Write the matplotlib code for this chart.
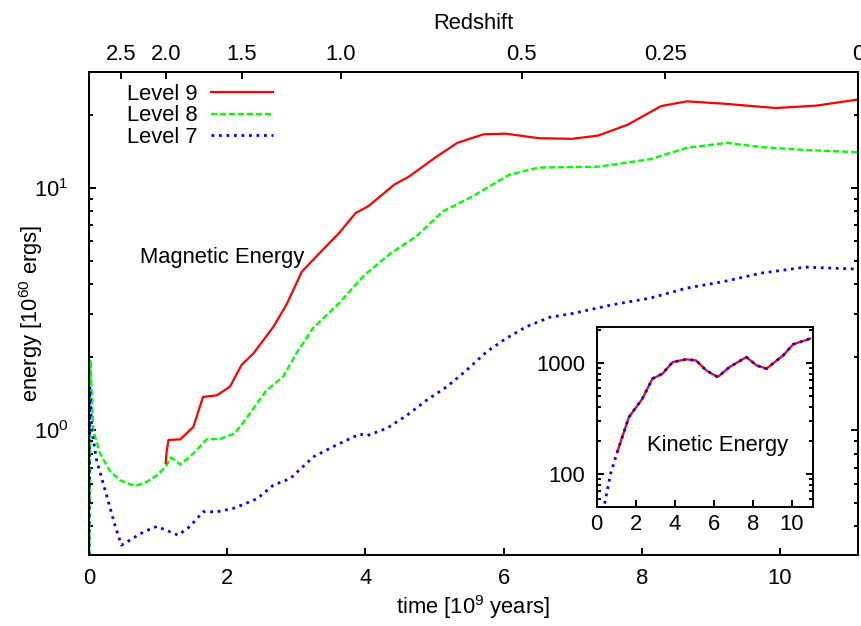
import matplotlib

matplotlib.use("Agg")

import matplotlib.pyplot as plt
from matplotlib.ticker import LogLocator, NullFormatter, NullLocator

# magnetic energy, main panel (time in 1e9 yr, energy in 1e60 erg)
level9_t = [1.11, 1.12, 1.15, 1.32, 1.51, 1.65, 1.85, 2.04, 2.21, 2.38, 2.67, 2.86, 3.08,
            3.29, 3.62, 3.86, 4.04, 4.42, 4.63, 5.01, 5.33, 5.71, 6.03, 6.51, 6.99, 7.37,
            7.80, 8.28, 8.65, 9.19, 9.94, 10.53, 11.13]
level9_e = [0.73, 0.80, 0.91, 0.915, 1.03, 1.37, 1.39, 1.51, 1.86, 2.07, 2.67, 3.3, 4.5,
            5.2, 6.5, 7.86, 8.37, 10.3, 11.1, 13.3, 15.3, 16.6, 16.7, 16.0, 15.9, 16.4,
            18.2, 21.7, 22.7, 22.2, 21.3, 21.8, 23.1]

level8_t = [0.0, 0.02, 0.06, 0.16, 0.30, 0.45, 0.67, 0.83, 0.98, 1.11, 1.18, 1.25, 1.32,
            1.51, 1.70, 1.90, 2.11, 2.28, 2.45, 2.57, 2.81, 3.0, 3.24, 3.62, 3.99, 4.37,
            4.74, 5.12, 5.55, 6.08, 6.51, 7.37, 8.12, 8.65, 9.24, 9.73, 10.37, 11.13]
level8_e = [0.2, 1.95, 1.0, 0.80, 0.68, 0.62, 0.587, 0.61, 0.65, 0.705, 0.77, 0.75, 0.72,
            0.80, 0.915, 0.92, 0.97, 1.12, 1.31, 1.46, 1.66, 2.07, 2.63, 3.34, 4.37, 5.37,
            6.3, 7.98, 9.2, 11.3, 12.1, 12.2, 13.1, 14.6, 15.3, 14.7, 14.3, 14.0]

level7_t = [0.0, 0.01, 0.04, 0.11, 0.26, 0.38, 0.47, 0.59, 0.79, 0.98, 1.12, 1.29, 1.46,
            1.65, 1.85, 2.09, 2.43, 2.67, 2.91, 3.25, 3.58, 3.92, 4.02, 4.31, 4.60, 4.89,
            5.18, 5.47, 5.76, 6.04, 6.33, 6.67, 7.01, 7.58, 8.12, 8.65, 9.19, 9.73, 10.37,
            11.13]
level7_e = [0.2, 1.51, 1.0, 0.75, 0.53, 0.40, 0.335, 0.351, 0.38, 0.40, 0.386, 0.368, 0.40,
            0.46, 0.46, 0.475, 0.52, 0.593, 0.63, 0.776, 0.867, 0.963, 0.947, 1.016, 1.15,
            1.33, 1.51, 1.77, 2.11, 2.39, 2.67, 2.92, 3.03, 3.29, 3.5, 3.85, 4.1, 4.44, 4.7,
            4.61]

# kinetic energy, inset
kin9_t = [1.05, 1.65, 2.34, 2.86, 3.37, 3.89, 4.58, 5.09, 5.61, 6.2, 6.81, 7.67, 8.19,
          8.7, 9.56, 10.07, 10.93]
kin9_e = [157, 325, 477, 723, 802, 1020, 1080, 1057, 860, 748, 921, 1132, 953, 890, 1175,
          1475, 1660]
kin7_t = [0.2, 0.37, 0.71, 1.05, 1.65, 2.34, 2.86, 3.37, 3.89, 4.58, 5.09, 5.61, 6.2,
          6.81, 7.67, 8.19, 8.7, 9.56, 10.07, 10.93]
kin7_e = [40, 50, 100, 157, 325, 477, 723, 802, 1020, 1080, 1057, 860, 748, 921, 1132,
          953, 890, 1175, 1475, 1660]

# redshift axis on top
redshift_t = [0.46, 1.12, 2.21, 3.64, 6.26, 8.34, 11.13]
redshift_labels = ["2.5", "2.0", "1.5", "1.0", "0.5", "0.25", "0"]

FONT = 15.8
plt.rcParams["font.family"] = ["Liberation Sans", "DejaVu Sans"]
plt.rcParams["mathtext.fontset"] = "custom"
plt.rcParams["mathtext.rm"] = "Liberation Sans"
plt.rcParams["mathtext.it"] = "Liberation Sans:italic"
plt.rcParams["font.size"] = FONT
plt.rcParams["axes.linewidth"] = 1.4

RED = "#ff0000"
GREEN = "#00ff00"
BLUE = "#0000ff"


def style_ticks(ax, pad_x, pad_y):
    ax.tick_params(which="both", direction="in", width=1.4, labelsize=FONT)
    ax.tick_params(which="major", length=5)
    ax.tick_params(which="minor", length=2.6)
    ax.tick_params(axis="x", which="both", top=False, pad=pad_x)
    ax.tick_params(axis="y", which="both", right=True, pad=pad_y)


fig = plt.figure(figsize=(8.61, 6.26), dpi=100)
ax = fig.add_axes([0.1034, 0.1134, 0.8931, 0.7716])

ax.plot(level9_t, level9_e, color=RED, linewidth=1.6, label="Level 9", zorder=3)
ax.plot(level8_t, level8_e, color=GREEN, linewidth=1.7, dashes=(2.6, 1.2),
        label="Level 8", zorder=2)
ax.plot(level7_t, level7_e, color=BLUE, linewidth=2.0, dashes=(1.0, 1.7),
        label="Level 7", zorder=2)

ax.set_yscale("log")
ax.set_xlim(0, 11.13)
ax.set_ylim(0.305, 30)
ax.set_xticks([0, 2, 4, 6, 8, 10])
ax.xaxis.set_minor_locator(NullLocator())
ax.yaxis.set_major_locator(LogLocator(base=10, numticks=10))
ax.yaxis.set_minor_locator(LogLocator(base=10, subs=range(2, 10), numticks=20))
ax.yaxis.set_minor_formatter(NullFormatter())
style_ticks(ax, pad_x=9, pad_y=15)

ax.set_xlabel("time [10$^9$ years]", fontsize=FONT)
ax.xaxis.set_label_coords(0.5, -0.078)
ax.set_ylabel("energy [10$^{60}$ ergs]", fontsize=FONT)
ax.yaxis.set_label_coords(-0.057, 0.5)

ax.text(0.74, 4.9, "Magnetic Energy", fontsize=FONT, ha="left", va="baseline")

ax.legend(loc="upper left", bbox_to_anchor=(0.035, 0.998), frameon=False,
          markerfirst=False, handlelength=2.8, handletextpad=0.62,
          labelspacing=0.02, borderpad=0.0, fontsize=FONT)

top = ax.twiny()
top.set_xlim(ax.get_xlim())
top.set_xticks(redshift_t, redshift_labels)
top.xaxis.set_minor_locator(NullLocator())
top.tick_params(axis="x", which="major", direction="in", length=5, width=1.4,
                labelsize=FONT, pad=5)
top.set_xlabel("Redshift", fontsize=FONT)
top.xaxis.set_label_coords(0.5, 1.09)

# inset with kinetic energy
ins = fig.add_axes([0.693, 0.1896, 0.2516, 0.2875])
ins.set_facecolor("white")
ins.plot(kin9_t, kin9_e, color=RED, linewidth=1.6, zorder=2)
ins.plot(kin7_t, kin7_e, color=BLUE, linewidth=2.0, dashes=(1.0, 1.7), zorder=3)
ins.set_yscale("log")
ins.set_xlim(0, 11.1)
ins.set_ylim(50, 2100)
ins.set_xticks([0, 2, 4, 6, 8, 10])
ins.xaxis.set_minor_locator(NullLocator())
ins.set_yticks([100, 1000], ["100", "1000"])
ins.yaxis.set_minor_locator(LogLocator(base=10, subs=range(2, 10), numticks=20))
ins.yaxis.set_minor_formatter(NullFormatter())
style_ticks(ins, pad_x=5, pad_y=8)
ins.text(2.6, 162, "Kinetic Energy", fontsize=FONT, ha="left", va="baseline")

fig.savefig("out.png", dpi=100)
